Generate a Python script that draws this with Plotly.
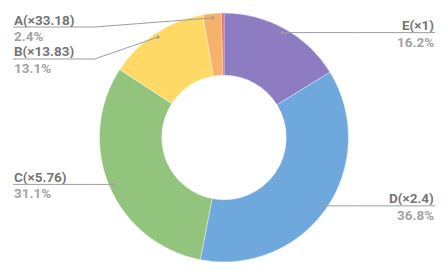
import math
import plotly.graph_objects as go

# ---- data ----
names = ["E", "D", "C", "B", "A", "F"]
values = [16.2, 36.8, 31.1, 13.1, 2.4, 0.3]
multipliers = ["×1", "×2.4", "×5.76", "×13.83", "×33.18", ""]
colors = ["#8e7cc3", "#6fa8dc", "#93c47d", "#ffd966", "#f6b26b", "#e06666"]
show_label = [True, True, True, True, True, False]

W, H = 448, 276
CX, CY, R = 224, 137.5, 124.5
HOLE = 0.5

fig = go.Figure()
fig.add_trace(go.Pie(
    labels=names, values=values, sort=False, direction="clockwise", rotation=0,
    hole=HOLE, textinfo="none", hoverinfo="label+percent",
    marker=dict(colors=colors, line=dict(color="rgba(255,255,255,0.6)", width=0.6)),
    domain=dict(x=[(CX - R) / W, (CX + R) / W], y=[(H - (CY + R)) / H, (H - (CY - R)) / H]),
    showlegend=False,
))

def px(x):
    return x / W

def py(y):
    return 1 - y / H

total = sum(values)
cum = 0.0
items = []
for n, v, m, s in zip(names, values, multipliers, show_label):
    mid = (cum + v / 2) / total * 2 * math.pi
    cum += v
    if not s:
        continue
    rr = R * 0.965
    x = CX + rr * math.sin(mid)
    y = CY - rr * math.cos(mid)
    items.append(dict(name=n, mult=m, pct=f"{v / total * 100:.1f}%", x=x, y=y,
                      side="right" if x > CX else "left"))

# simple collision layout per side
MIN_TOP, GAP = 27, 32
for side in ("left", "right"):
    grp = sorted([it for it in items if it["side"] == side], key=lambda d: d["y"])
    prev = None
    for it in grp:
        ly = max(it["y"], MIN_TOP)
        if prev is not None:
            ly = max(ly, prev + GAP)
        it["ly"] = ly
        prev = ly

shapes = []
annotations = []
LINE_COL = "#9e9e9e"
BOX_H = 14
FS = 13.5
for it in items:
    if it["side"] == "left":
        x_text, x_elbow, anchor = 13, CX - R - 5, "left"
    else:
        x_text, x_elbow, anchor = 435, CX + R + 5, "right"
    ly = it["ly"]
    path = f"M {px(it['x'])},{py(it['y'])} L {px(x_elbow)},{py(ly)} L {px(x_text)},{py(ly)}"
    shapes.append(dict(type="path", path=path, xref="paper", yref="paper",
                       line=dict(color=LINE_COL, width=1)))
    shapes.append(dict(type="circle", xref="paper", yref="paper", xsizemode="pixel", ysizemode="pixel",
                       xanchor=px(it["x"]), yanchor=py(it["y"]), x0=-1.6, x1=1.6, y0=-1.6, y1=1.6,
                       fillcolor=LINE_COL, line=dict(width=0)))
    annotations.append(dict(text=f"{it['name']}({it['mult']})", x=px(x_text), y=py(ly + 0.5),
                            xref="paper", yref="paper", xanchor=anchor, yanchor="bottom",
                            height=BOX_H, showarrow=False, borderpad=0,
                            font=dict(family="Roboto", size=FS, color="#757575", weight="bold")))
    annotations.append(dict(text=it["pct"], x=px(x_text), y=py(ly + 1),
                            xref="paper", yref="paper", xanchor=anchor, yanchor="top",
                            height=BOX_H, showarrow=False, borderpad=0,
                            font=dict(family="Roboto", size=FS, color="#a3a3a3", weight="bold")))

fig.update_layout(width=W, height=H, margin=dict(l=0, r=0, t=0, b=0),
                  paper_bgcolor="white", plot_bgcolor="white",
                  shapes=shapes, annotations=annotations)
fig.write_html("out.html")
